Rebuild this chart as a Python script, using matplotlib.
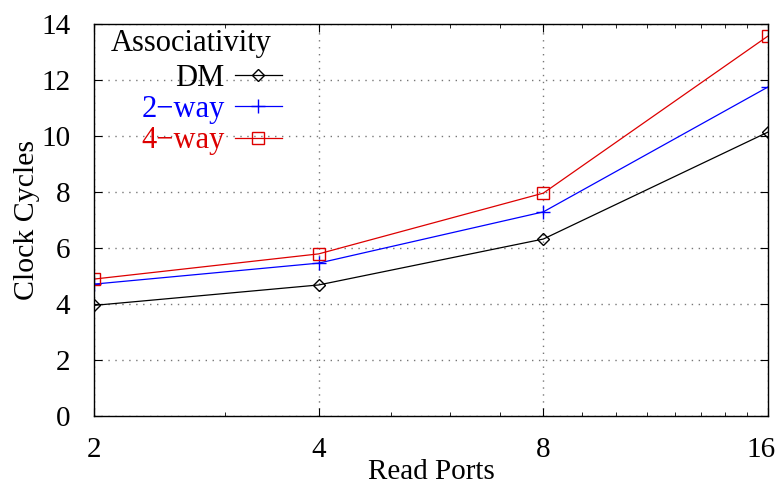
import matplotlib
matplotlib.use('Agg')
import matplotlib.pyplot as plt
import matplotlib.transforms as mtransforms
from matplotlib.ticker import FixedLocator, NullFormatter

plt.rcParams['font.family'] = ['Liberation Serif', 'DejaVu Serif']

# Data
read_ports = [2, 4, 8, 16]
dm = [3.95, 4.68, 6.32, 10.14]
two_way = [4.71, 5.46, 7.29, 11.75]
four_way = [4.89, 5.79, 7.96, 13.57]
x_ticks = [2, 4, 8, 16]
y_ticks = [0, 2, 4, 6, 8, 10, 12, 14]

red = '#dd0000'
blue = '#0000ff'
W, H = 779, 493

fig = plt.figure(figsize=(7.79, 4.93), dpi=100)
ax = fig.add_axes([94 / W, 77 / H, 674 / W, 392 / H])

ax.plot(read_ports, dm, color='black', lw=0.9, marker='D', ms=6.5,
        mfc='none', mec='black', mew=1.0, label='DM')
ax.plot(read_ports, two_way, color=blue, lw=0.9, marker='+', ms=10,
        mew=1.0, label='2\u2212way')
ax.plot(read_ports, four_way, color=red, lw=0.9, marker='s', ms=8,
        mfc='none', mec=red, mew=1.0, label='4\u2212way')

ax.set_xscale('log', base=2)
ax.set_xlim(2, 16)
ax.set_ylim(0, 14)
ax.xaxis.set_major_locator(FixedLocator(x_ticks))
ax.set_xticklabels([str(v) for v in x_ticks])
ax.xaxis.set_minor_locator(FixedLocator([3, 5, 6, 7, 9, 10, 11, 12, 13, 14, 15]))
ax.xaxis.set_minor_formatter(NullFormatter())
ax.yaxis.set_major_locator(FixedLocator(y_ticks))

ax.tick_params(which='both', direction='in', top=True, right=True, labelsize=21)
ax.tick_params(axis='x', pad=15)
ax.tick_params(axis='y', pad=17)
ax.tick_params(which='major', length=6, width=0.8)
ax.tick_params(which='minor', length=3, width=0.6)

# last x label sits a bit left, as in the reference
shift = mtransforms.ScaledTranslation(-7 / 100, 0, fig.dpi_scale_trans)
lab16 = ax.get_xticklabels()[-1]
lab16.set_transform(lab16.get_transform() + shift)

ax.grid(True, which='major', linestyle=(0, (1, 4)), color='#777777', lw=1.0)
for s in ax.spines.values():
    s.set_linewidth(1.0)

ax.set_xlabel('Read Ports', fontsize=21, labelpad=-3)
ax.set_ylabel('Clock Cycles', fontsize=21.5, labelpad=1)

ax.text((111 - 94) / 674, 1 - 19 / 392, 'Associativity', transform=ax.transAxes,
        fontsize=22, ha='left', va='center')

leg = ax.legend(loc='upper right', bbox_to_anchor=(282 / W, (H - 64) / H),
                bbox_transform=fig.transFigure, markerfirst=False,
                frameon=False, fontsize=22, handlelength=1.55,
                labelspacing=0.07, borderaxespad=0, handletextpad=0.33,
                borderpad=0)
for txt, c in zip(leg.get_texts(), ['black', blue, red]):
    txt.set_color(c)

fig.savefig('out.png', dpi=100)
